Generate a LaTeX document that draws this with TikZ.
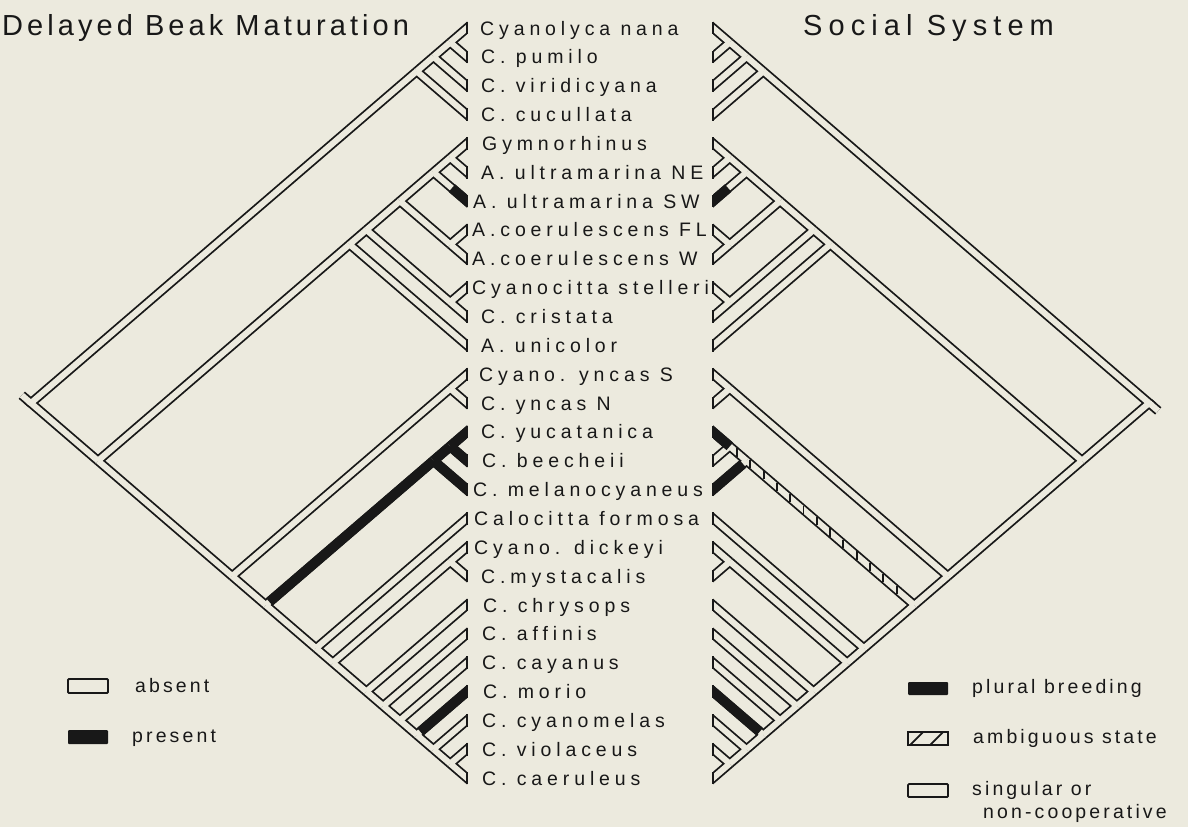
\documentclass[tikz,border=0pt]{standalone}
\usepackage{fontspec}
\setmainfont{Liberation Sans}
\newfontfamily\labfont{Liberation Sans}[LetterSpace=25]
\newfontfamily\legfont{Liberation Sans}[LetterSpace=16]
\newfontfamily\ttlfontA{Liberation Sans}[LetterSpace=14]
\newfontfamily\ttlfontB{Liberation Sans}[LetterSpace=21]
\usetikzlibrary{calc}
\definecolor{bg}{RGB}{236,234,222}
\definecolor{ink}{RGB}{24,24,24}
\newcommand\mkcoord[3]{%
  \pgfmathsetmacro\mkya{28+(#2-1)*28.85}%
  \pgfmathsetmacro\mkyb{28+(#3-1)*28.85}%
  \pgfmathsetmacro\mkdx{(\mkyb-\mkya)/(2*0.86)}%
  \pgfmathsetmacro\mkym{(\mkya+\mkyb)/2}%
  \coordinate (L#1) at ({467-\mkdx},\mkym);%
  \coordinate (R#1) at ({713+\mkdx},\mkym);%
}
\def\intedges{cy/cy3, cy3/cy2, rest/A, rest/B, A/A11, A11/A9, A11/A1011, A9/A7, A9/A89, A7/A6, B/B1314, B/C, C/D, C/E, D/D1516, E/F, F/F1920, F/G, G/G22, G22/G23, G23/G24, G24/G25, G25/G26}
\def\tipedges{cy/t4, cy3/t3, cy2/t1, cy2/t2, A/t12, A7/t7, A6/t5, A6/t6, A89/t8, A89/t9, A1011/t10, A1011/t11, B1314/t13, B1314/t14, D/t17, D1516/t15, D1516/t16, E/t18, F1920/t19, F1920/t20, G/t21, G22/t22, G23/t23, G24/t24, G25/t25, G26/t26, G26/t27}
\newcommand\drawtree[2]{%
  \foreach \p/\c in \intedges {\draw (#1\p) -- (#1\c);}
  \foreach \p/\c in \tipedges {\draw (#1\p) -- ($(#1\c)!-12pt!(#1\p)$);}
  \draw[line join=miter] (#1cy) -- (#1root) -- (#1rest);
  \draw (#1root) -- ($(#1root)!-12pt!(#1#2)$);
}
\tikzset{
  lab/.style={font=\labfont\fontsize{19.5}{22}\selectfont, inner sep=0pt, anchor=base west, text=ink},
  leg/.style={font=\legfont\fontsize{19.5}{22}\selectfont, inner sep=0pt, anchor=base west, text=ink},
  outer/.style={ink, line width=9.6pt},
  inner/.style={bg, line width=6.0pt},
  solid bar/.style={ink, line width=10pt},
  edge line/.style={ink, line width=1.8pt}
}
\begin{document}
\begin{tikzpicture}[x=1pt,y=-1pt]
\fill[bg] (0,0) rectangle (1188,827);
\useasboundingbox (0,0) rectangle (1188,827);
% coordinates
\foreach \i in {1,...,27} {\mkcoord{t\i}{\i}{\i}}
\mkcoord{root}{1}{27}
\mkcoord{cy}{1}{4}
\mkcoord{cy3}{1}{3}
\mkcoord{cy2}{1}{2}
\mkcoord{rest}{5}{27}
\mkcoord{A}{5}{12}
\mkcoord{A11}{5}{11}
\mkcoord{A9}{5}{9}
\mkcoord{A7}{5}{7}
\mkcoord{A6}{5}{6}
\mkcoord{A89}{8}{9}
\mkcoord{A1011}{10}{11}
\mkcoord{B}{13}{27}
\mkcoord{B1314}{13}{14}
\mkcoord{C}{15}{27}
\mkcoord{D}{15}{17}
\mkcoord{D1516}{15}{16}
\mkcoord{E}{18}{27}
\mkcoord{F}{19}{27}
\mkcoord{F1920}{19}{20}
\mkcoord{G}{21}{27}
\mkcoord{G22}{22}{27}
\mkcoord{G23}{23}{27}
\mkcoord{G24}{24}{27}
\mkcoord{G25}{25}{27}
\mkcoord{G26}{26}{27}
% ---------- left tree ----------
\begin{scope}
  \clip (-5,-5) rectangle (467,840);
  \begin{scope}[outer]\drawtree{L}{t27}\end{scope}
  \begin{scope}[inner]\drawtree{L}{t27}\end{scope}
  \begin{scope}[solid bar]
    \draw ($(LC)!4.8pt!(LD)$) -- (LD);
    \draw (LD) -- (LD1516);
    \draw (LD1516) -- ($(Lt15)!-12pt!(LD1516)$);
    \draw (LD1516) -- ($(Lt16)!-12pt!(LD1516)$);
    \draw (LD) -- ($(Lt17)!-12pt!(LD)$);
    \draw ($(LG24)!4.8pt!(Lt24)$) -- ($(Lt24)!-12pt!(LG24)$);
    \draw ($(LA7)!0.55!(Lt7)$) -- ($(Lt7)!-12pt!(LA7)$);
  \end{scope}
\end{scope}
% ---------- right tree ----------
\begin{scope}
  \clip (713,-5) rectangle (1200,840);
  \begin{scope}[outer]\drawtree{R}{t1}\end{scope}
  \begin{scope}[inner]\drawtree{R}{t1}\end{scope}
  \foreach \xx in {737,750.3,...,906} {
    \draw[ink, line width=1.9pt] (\xx,{446.3+(\xx-729.8)*0.86-4.1}) -- ++(0,8.2);
  }
  \begin{scope}[solid bar]
    \draw (RD1516) -- ($(Rt15)!-12pt!(RD1516)$);
    \draw ($(RD)!4.8pt!(Rt17)$) -- ($(Rt17)!-12pt!(RD)$);
    \draw ($(RG24)!4.8pt!(Rt24)$) -- ($(Rt24)!-12pt!(RG24)$);
    \draw ($(RA7)!0.55!(Rt7)$) -- ($(Rt7)!-12pt!(RA7)$);
  \end{scope}
\end{scope}
% tip closing lines
\foreach \i in {1,...,27} {
  \draw[edge line] (Lt\i) ++(0,-6.3) -- ++(0,12.6);
  \draw[edge line] (Rt\i) ++(0,-6.3) -- ++(0,12.6);
}
% ---------- labels ----------
\foreach \i/\xx/\t in {1/480/Cyanolyca nana, 2/481/C. pumilo, 3/481/C. viridicyana, 4/481/C. cucullata, 5/482/Gymnorhinus, 6/481/A. ultramarina NE, 7/473/A. ultramarina SW, 8/472/A.coerulescens FL, 9/472/A.coerulescens W, 10/472/Cyanocitta stelleri, 11/481/C. cristata, 12/481/A. unicolor, 13/479/Cyano. yncas S, 14/481/C. yncas N, 15/481/C. yucatanica, 16/482/C. beecheii, 17/473/C. melanocyaneus, 18/474/Calocitta formosa, 19/474/Cyano. dickeyi, 20/481/C.mystacalis, 21/483/C. chrysops, 22/482/C. affinis, 23/482/C. cayanus, 24/483/C. morio, 25/482/C. cyanomelas, 26/482/C. violaceus, 27/482/C. caeruleus} {
  \node[lab] (lab\i) at (\xx,{28+(\i-1)*28.85+7}) {\t};
}
% titles
\node[font=\ttlfontA\fontsize{29}{32}\selectfont, inner sep=0pt, anchor=base west, text=ink] (ttlL) at (2,35) {Delayed Beak Maturation};
\node[font=\ttlfontB\fontsize{29}{32}\selectfont, inner sep=0pt, anchor=base west, text=ink] (ttlR) at (803,35) {Social System};
% ---------- legends ----------
\draw[edge line, rounded corners=1pt] (68,679) rectangle (108,693);
\node[leg] (kabs) at (135,692) {absent};
\fill[ink, rounded corners=1pt] (68,730) rectangle (108,744);
\node[leg] (kpres) at (132,742) {present};
\fill[ink, rounded corners=1pt] (908,682) rectangle (948,695);
\node[leg] (kplu) at (972,693) {plural breeding};
\draw[edge line] (908,732) rectangle (948,745);
\draw[edge line] (910,745) -- (923,732);
\draw[edge line] (930,745) -- (943,732);
\node[leg] (kamb) at (973,743) {ambiguous state};
\draw[edge line, rounded corners=1pt] (908,784) rectangle (948,797);
\node[leg] (ksin) at (972,795) {singular or};
\node[leg] (knon) at (983,818) {non-cooperative};
\end{tikzpicture}
\end{document}
